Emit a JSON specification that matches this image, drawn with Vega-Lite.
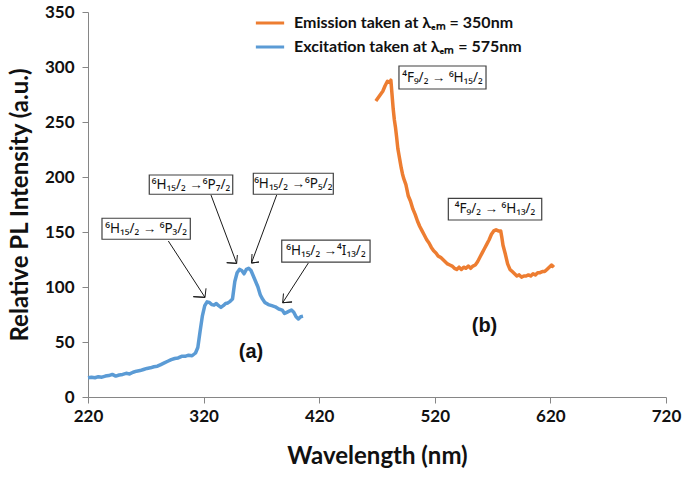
{
  "$schema": "https://vega.github.io/schema/vega-lite/v6.json",
  "width": 578,
  "height": 385,
  "autosize": "none",
  "padding": {"left": 88, "top": 12, "right": 19, "bottom": 80},
  "background": "white",
  "config": {
    "view": {"stroke": null},
    "axis": {
      "grid": false,
      "domainColor": "#868686",
      "tickColor": "#868686",
      "tickSize": 6,
      "labelFont": "Lato",
      "labelFontWeight": "bold",
      "labelFontSize": 17,
      "labelColor": "#111111",
      "titleFont": "Lato",
      "titleFontWeight": "bold",
      "titleFontSize": 24,
      "titleColor": "#111111"
    },
    "legend": {
      "labelFont": "Lato",
      "labelFontWeight": "bold",
      "labelFontSize": 16,
      "labelColor": "#111111",
      "labelLimit": 0
    }
  },
  "datasets": {
    "spectra": [
      {"series": "Emission taken at λₑₘ = 350nm", "nm": 469, "v": 269},
      {"series": "Emission taken at λₑₘ = 350nm", "nm": 471, "v": 272},
      {"series": "Emission taken at λₑₘ = 350nm", "nm": 473, "v": 275},
      {"series": "Emission taken at λₑₘ = 350nm", "nm": 475, "v": 278},
      {"series": "Emission taken at λₑₘ = 350nm", "nm": 477, "v": 283},
      {"series": "Emission taken at λₑₘ = 350nm", "nm": 479, "v": 287},
      {"series": "Emission taken at λₑₘ = 350nm", "nm": 481, "v": 286},
      {"series": "Emission taken at λₑₘ = 350nm", "nm": 482, "v": 288},
      {"series": "Emission taken at λₑₘ = 350nm", "nm": 483, "v": 275},
      {"series": "Emission taken at λₑₘ = 350nm", "nm": 484, "v": 262},
      {"series": "Emission taken at λₑₘ = 350nm", "nm": 485, "v": 252},
      {"series": "Emission taken at λₑₘ = 350nm", "nm": 486, "v": 245},
      {"series": "Emission taken at λₑₘ = 350nm", "nm": 487, "v": 236},
      {"series": "Emission taken at λₑₘ = 350nm", "nm": 488, "v": 226},
      {"series": "Emission taken at λₑₘ = 350nm", "nm": 489, "v": 220},
      {"series": "Emission taken at λₑₘ = 350nm", "nm": 490, "v": 214},
      {"series": "Emission taken at λₑₘ = 350nm", "nm": 491, "v": 208},
      {"series": "Emission taken at λₑₘ = 350nm", "nm": 492, "v": 203},
      {"series": "Emission taken at λₑₘ = 350nm", "nm": 493, "v": 199},
      {"series": "Emission taken at λₑₘ = 350nm", "nm": 495, "v": 193},
      {"series": "Emission taken at λₑₘ = 350nm", "nm": 497, "v": 183},
      {"series": "Emission taken at λₑₘ = 350nm", "nm": 499, "v": 178},
      {"series": "Emission taken at λₑₘ = 350nm", "nm": 501, "v": 171},
      {"series": "Emission taken at λₑₘ = 350nm", "nm": 503, "v": 166},
      {"series": "Emission taken at λₑₘ = 350nm", "nm": 505, "v": 160},
      {"series": "Emission taken at λₑₘ = 350nm", "nm": 507, "v": 155},
      {"series": "Emission taken at λₑₘ = 350nm", "nm": 509, "v": 151},
      {"series": "Emission taken at λₑₘ = 350nm", "nm": 511, "v": 147},
      {"series": "Emission taken at λₑₘ = 350nm", "nm": 513, "v": 143},
      {"series": "Emission taken at λₑₘ = 350nm", "nm": 515, "v": 140},
      {"series": "Emission taken at λₑₘ = 350nm", "nm": 517, "v": 136},
      {"series": "Emission taken at λₑₘ = 350nm", "nm": 519, "v": 133},
      {"series": "Emission taken at λₑₘ = 350nm", "nm": 521, "v": 131},
      {"series": "Emission taken at λₑₘ = 350nm", "nm": 523, "v": 128},
      {"series": "Emission taken at λₑₘ = 350nm", "nm": 525, "v": 127},
      {"series": "Emission taken at λₑₘ = 350nm", "nm": 527, "v": 125},
      {"series": "Emission taken at λₑₘ = 350nm", "nm": 529, "v": 123},
      {"series": "Emission taken at λₑₘ = 350nm", "nm": 531, "v": 121},
      {"series": "Emission taken at λₑₘ = 350nm", "nm": 533, "v": 120},
      {"series": "Emission taken at λₑₘ = 350nm", "nm": 535, "v": 119},
      {"series": "Emission taken at λₑₘ = 350nm", "nm": 537, "v": 117},
      {"series": "Emission taken at λₑₘ = 350nm", "nm": 539, "v": 116},
      {"series": "Emission taken at λₑₘ = 350nm", "nm": 541, "v": 118},
      {"series": "Emission taken at λₑₘ = 350nm", "nm": 543, "v": 116},
      {"series": "Emission taken at λₑₘ = 350nm", "nm": 545, "v": 118},
      {"series": "Emission taken at λₑₘ = 350nm", "nm": 547, "v": 117},
      {"series": "Emission taken at λₑₘ = 350nm", "nm": 549, "v": 119},
      {"series": "Emission taken at λₑₘ = 350nm", "nm": 551, "v": 117},
      {"series": "Emission taken at λₑₘ = 350nm", "nm": 553, "v": 119},
      {"series": "Emission taken at λₑₘ = 350nm", "nm": 555, "v": 120},
      {"series": "Emission taken at λₑₘ = 350nm", "nm": 557, "v": 123},
      {"series": "Emission taken at λₑₘ = 350nm", "nm": 559, "v": 127},
      {"series": "Emission taken at λₑₘ = 350nm", "nm": 561, "v": 131},
      {"series": "Emission taken at λₑₘ = 350nm", "nm": 563, "v": 135},
      {"series": "Emission taken at λₑₘ = 350nm", "nm": 565, "v": 139},
      {"series": "Emission taken at λₑₘ = 350nm", "nm": 567, "v": 143},
      {"series": "Emission taken at λₑₘ = 350nm", "nm": 569, "v": 148},
      {"series": "Emission taken at λₑₘ = 350nm", "nm": 571, "v": 151},
      {"series": "Emission taken at λₑₘ = 350nm", "nm": 573, "v": 152},
      {"series": "Emission taken at λₑₘ = 350nm", "nm": 575, "v": 151},
      {"series": "Emission taken at λₑₘ = 350nm", "nm": 577, "v": 151},
      {"series": "Emission taken at λₑₘ = 350nm", "nm": 578, "v": 145},
      {"series": "Emission taken at λₑₘ = 350nm", "nm": 579, "v": 138},
      {"series": "Emission taken at λₑₘ = 350nm", "nm": 581, "v": 130},
      {"series": "Emission taken at λₑₘ = 350nm", "nm": 583, "v": 121},
      {"series": "Emission taken at λₑₘ = 350nm", "nm": 585, "v": 116},
      {"series": "Emission taken at λₑₘ = 350nm", "nm": 587, "v": 114},
      {"series": "Emission taken at λₑₘ = 350nm", "nm": 589, "v": 112},
      {"series": "Emission taken at λₑₘ = 350nm", "nm": 591, "v": 110},
      {"series": "Emission taken at λₑₘ = 350nm", "nm": 593, "v": 111},
      {"series": "Emission taken at λₑₘ = 350nm", "nm": 595, "v": 109},
      {"series": "Emission taken at λₑₘ = 350nm", "nm": 597, "v": 110},
      {"series": "Emission taken at λₑₘ = 350nm", "nm": 599, "v": 110},
      {"series": "Emission taken at λₑₘ = 350nm", "nm": 601, "v": 111},
      {"series": "Emission taken at λₑₘ = 350nm", "nm": 603, "v": 110},
      {"series": "Emission taken at λₑₘ = 350nm", "nm": 605, "v": 112},
      {"series": "Emission taken at λₑₘ = 350nm", "nm": 607, "v": 111},
      {"series": "Emission taken at λₑₘ = 350nm", "nm": 609, "v": 113},
      {"series": "Emission taken at λₑₘ = 350nm", "nm": 611, "v": 113},
      {"series": "Emission taken at λₑₘ = 350nm", "nm": 613, "v": 114},
      {"series": "Emission taken at λₑₘ = 350nm", "nm": 615, "v": 114},
      {"series": "Emission taken at λₑₘ = 350nm", "nm": 617, "v": 116},
      {"series": "Emission taken at λₑₘ = 350nm", "nm": 619, "v": 118},
      {"series": "Emission taken at λₑₘ = 350nm", "nm": 621, "v": 120},
      {"series": "Emission taken at λₑₘ = 350nm", "nm": 623, "v": 118},
      {"series": "Excitation taken at λₑₘ =  575nm", "nm": 220, "v": 17.5},
      {"series": "Excitation taken at λₑₘ =  575nm", "nm": 223, "v": 18},
      {"series": "Excitation taken at λₑₘ =  575nm", "nm": 226, "v": 17.5},
      {"series": "Excitation taken at λₑₘ =  575nm", "nm": 229, "v": 18.5},
      {"series": "Excitation taken at λₑₘ =  575nm", "nm": 232, "v": 18},
      {"series": "Excitation taken at λₑₘ =  575nm", "nm": 235, "v": 19},
      {"series": "Excitation taken at λₑₘ =  575nm", "nm": 238, "v": 19.5},
      {"series": "Excitation taken at λₑₘ =  575nm", "nm": 241, "v": 20.5},
      {"series": "Excitation taken at λₑₘ =  575nm", "nm": 244, "v": 19},
      {"series": "Excitation taken at λₑₘ =  575nm", "nm": 247, "v": 20},
      {"series": "Excitation taken at λₑₘ =  575nm", "nm": 250, "v": 20.5},
      {"series": "Excitation taken at λₑₘ =  575nm", "nm": 253, "v": 21.5},
      {"series": "Excitation taken at λₑₘ =  575nm", "nm": 256, "v": 21},
      {"series": "Excitation taken at λₑₘ =  575nm", "nm": 259, "v": 22.5},
      {"series": "Excitation taken at λₑₘ =  575nm", "nm": 262, "v": 23.5},
      {"series": "Excitation taken at λₑₘ =  575nm", "nm": 265, "v": 24},
      {"series": "Excitation taken at λₑₘ =  575nm", "nm": 268, "v": 25},
      {"series": "Excitation taken at λₑₘ =  575nm", "nm": 271, "v": 26},
      {"series": "Excitation taken at λₑₘ =  575nm", "nm": 274, "v": 26.5},
      {"series": "Excitation taken at λₑₘ =  575nm", "nm": 277, "v": 27.5},
      {"series": "Excitation taken at λₑₘ =  575nm", "nm": 280, "v": 28},
      {"series": "Excitation taken at λₑₘ =  575nm", "nm": 283, "v": 29.5},
      {"series": "Excitation taken at λₑₘ =  575nm", "nm": 286, "v": 31},
      {"series": "Excitation taken at λₑₘ =  575nm", "nm": 289, "v": 32.5},
      {"series": "Excitation taken at λₑₘ =  575nm", "nm": 292, "v": 34},
      {"series": "Excitation taken at λₑₘ =  575nm", "nm": 295, "v": 35},
      {"series": "Excitation taken at λₑₘ =  575nm", "nm": 298, "v": 35.5},
      {"series": "Excitation taken at λₑₘ =  575nm", "nm": 301, "v": 37},
      {"series": "Excitation taken at λₑₘ =  575nm", "nm": 304, "v": 37},
      {"series": "Excitation taken at λₑₘ =  575nm", "nm": 307, "v": 38},
      {"series": "Excitation taken at λₑₘ =  575nm", "nm": 310, "v": 37.5},
      {"series": "Excitation taken at λₑₘ =  575nm", "nm": 313, "v": 40},
      {"series": "Excitation taken at λₑₘ =  575nm", "nm": 315, "v": 45},
      {"series": "Excitation taken at λₑₘ =  575nm", "nm": 317, "v": 60},
      {"series": "Excitation taken at λₑₘ =  575nm", "nm": 319, "v": 74},
      {"series": "Excitation taken at λₑₘ =  575nm", "nm": 321, "v": 83},
      {"series": "Excitation taken at λₑₘ =  575nm", "nm": 323, "v": 86.5},
      {"series": "Excitation taken at λₑₘ =  575nm", "nm": 325, "v": 86},
      {"series": "Excitation taken at λₑₘ =  575nm", "nm": 327, "v": 84},
      {"series": "Excitation taken at λₑₘ =  575nm", "nm": 329, "v": 83.5},
      {"series": "Excitation taken at λₑₘ =  575nm", "nm": 331, "v": 85},
      {"series": "Excitation taken at λₑₘ =  575nm", "nm": 333, "v": 83},
      {"series": "Excitation taken at λₑₘ =  575nm", "nm": 335, "v": 81.5},
      {"series": "Excitation taken at λₑₘ =  575nm", "nm": 337, "v": 83},
      {"series": "Excitation taken at λₑₘ =  575nm", "nm": 339, "v": 85},
      {"series": "Excitation taken at λₑₘ =  575nm", "nm": 341, "v": 85.5},
      {"series": "Excitation taken at λₑₘ =  575nm", "nm": 343, "v": 87},
      {"series": "Excitation taken at λₑₘ =  575nm", "nm": 345, "v": 89},
      {"series": "Excitation taken at λₑₘ =  575nm", "nm": 347, "v": 105},
      {"series": "Excitation taken at λₑₘ =  575nm", "nm": 349, "v": 113},
      {"series": "Excitation taken at λₑₘ =  575nm", "nm": 351, "v": 116},
      {"series": "Excitation taken at λₑₘ =  575nm", "nm": 353, "v": 115},
      {"series": "Excitation taken at λₑₘ =  575nm", "nm": 355, "v": 112},
      {"series": "Excitation taken at λₑₘ =  575nm", "nm": 357, "v": 116},
      {"series": "Excitation taken at λₑₘ =  575nm", "nm": 359, "v": 117},
      {"series": "Excitation taken at λₑₘ =  575nm", "nm": 361, "v": 115},
      {"series": "Excitation taken at λₑₘ =  575nm", "nm": 363, "v": 110},
      {"series": "Excitation taken at λₑₘ =  575nm", "nm": 365, "v": 105},
      {"series": "Excitation taken at λₑₘ =  575nm", "nm": 367, "v": 100},
      {"series": "Excitation taken at λₑₘ =  575nm", "nm": 369, "v": 93},
      {"series": "Excitation taken at λₑₘ =  575nm", "nm": 371, "v": 89},
      {"series": "Excitation taken at λₑₘ =  575nm", "nm": 373, "v": 86},
      {"series": "Excitation taken at λₑₘ =  575nm", "nm": 376, "v": 84},
      {"series": "Excitation taken at λₑₘ =  575nm", "nm": 379, "v": 83},
      {"series": "Excitation taken at λₑₘ =  575nm", "nm": 382, "v": 82},
      {"series": "Excitation taken at λₑₘ =  575nm", "nm": 385, "v": 80},
      {"series": "Excitation taken at λₑₘ =  575nm", "nm": 388, "v": 79},
      {"series": "Excitation taken at λₑₘ =  575nm", "nm": 390, "v": 76},
      {"series": "Excitation taken at λₑₘ =  575nm", "nm": 392, "v": 77},
      {"series": "Excitation taken at λₑₘ =  575nm", "nm": 394, "v": 78},
      {"series": "Excitation taken at λₑₘ =  575nm", "nm": 396, "v": 79},
      {"series": "Excitation taken at λₑₘ =  575nm", "nm": 398, "v": 77},
      {"series": "Excitation taken at λₑₘ =  575nm", "nm": 400, "v": 73},
      {"series": "Excitation taken at λₑₘ =  575nm", "nm": 402, "v": 71},
      {"series": "Excitation taken at λₑₘ =  575nm", "nm": 404, "v": 73},
      {"series": "Excitation taken at λₑₘ =  575nm", "nm": 406, "v": 73.5}
    ],
    "arrows": [
      {"a": "A1", "o": 0, "nm": 289.5, "v": 141.8},
      {"a": "A1", "o": 1, "nm": 321.2, "v": 90.6},
      {"a": "A1", "o": 2, "nm": 311.1, "v": 91.2},
      {"a": "A1", "o": 3, "nm": 321.2, "v": 90.6},
      {"a": "A1", "o": 4, "nm": 322.1, "v": 98.8},
      {"a": "A2", "o": 0, "nm": 326.4, "v": 183.6},
      {"a": "A2", "o": 1, "nm": 348.6, "v": 121.5},
      {"a": "A2", "o": 2, "nm": 340, "v": 122.1},
      {"a": "A2", "o": 3, "nm": 348.6, "v": 121.5},
      {"a": "A2", "o": 4, "nm": 349.2, "v": 129.1},
      {"a": "A3", "o": 0, "nm": 383.2, "v": 183.6},
      {"a": "A3", "o": 1, "nm": 361.4, "v": 121.8},
      {"a": "A3", "o": 2, "nm": 367.9, "v": 122.7},
      {"a": "A3", "o": 3, "nm": 361.4, "v": 121.8},
      {"a": "A3", "o": 4, "nm": 361.9, "v": 130},
      {"a": "A4", "o": 0, "nm": 410.6, "v": 121.8},
      {"a": "A4", "o": 1, "nm": 388.4, "v": 85.7},
      {"a": "A4", "o": 2, "nm": 396.5, "v": 86.4},
      {"a": "A4", "o": 3, "nm": 388.4, "v": 85.7},
      {"a": "A4", "o": 4, "nm": 389.1, "v": 94.1}
    ],
    "boxes": [
      {"label": "⁶H₁₅/₂ → ⁶P₃/₂", "x1": 232.1, "x2": 308.5, "y1": 143.4, "y2": 162.5},
      {"label": "⁶H₁₅/₂ →⁶P₇/₂", "x1": 273, "x2": 345.2, "y1": 184.3, "y2": 201.8},
      {"label": "⁶H₁₅/₂ →⁶P₅/₂", "x1": 363, "x2": 432.2, "y1": 184.3, "y2": 203.4},
      {"label": "⁶H₁₅/₂ →⁴I₁₃/₂", "x1": 387.6, "x2": 464, "y1": 122.7, "y2": 142.7},
      {"label": "⁴F₉/₂ → ⁶H₁₅/₂", "x1": 489, "x2": 564.3, "y1": 280, "y2": 300.9},
      {"label": "⁴F₉/₂ → ⁶H₁₃/₂", "x1": 531.7, "x2": 612.5, "y1": 160.9, "y2": 180.6}
    ],
    "tags": [
      {"t": "(a)", "nm": 361, "v": 41},
      {"t": "(b)", "nm": 563, "v": 65}
    ]
  },
  "layer": [
    {
      "data": {"name": "spectra"},
      "mark": {"type": "line", "strokeWidth": 3.5, "strokeJoin": "round"},
      "encoding": {
        "x": {
          "field": "nm", "type": "quantitative", "title": "Wavelength (nm)",
          "scale": {"domain": [220, 720], "nice": false, "zero": false},
          "axis": {"values": [220, 320, 420, 520, 620, 720], "labelPadding": 5, "titlePadding": 20, "labelFlush": false}
        },
        "y": {
          "field": "v", "type": "quantitative", "title": "Relative PL Intensity (a.u.)",
          "scale": {"domain": [0, 350], "nice": false},
          "axis": {"values": [0, 50, 100, 150, 200, 250, 300, 350], "labelPadding": 8, "titlePadding": 12, "labelFlush": false}
        },
        "color": {
          "field": "series", "type": "nominal",
          "scale": {
            "domain": ["Emission taken at λₑₘ = 350nm", "Excitation taken at λₑₘ =  575nm"],
            "range": ["#ED7D31", "#5B9BD5"]
          },
          "legend": {
            "title": null,
            "orient": "none",
            "legendX": 166,
            "legendY": -5,
            "symbolType": "stroke",
            "symbolStrokeWidth": 3,
            "symbolSize": 800,
            "rowPadding": 0,
            "labelOffset": 8
          }
        }
      }
    },
    {
      "data": {"name": "arrows"},
      "mark": {"type": "line", "color": "#1a1a1a", "strokeWidth": 1},
      "encoding": {
        "x": {"field": "nm", "type": "quantitative", "title": "Wavelength (nm)"},
        "y": {"field": "v", "type": "quantitative", "title": "Relative PL Intensity (a.u.)"},
        "detail": {"field": "a"},
        "order": {"field": "o"}
      }
    },
    {
      "data": {"name": "boxes"},
      "mark": {"type": "rect", "fill": "white", "stroke": "#404040", "strokeWidth": 1.2},
      "encoding": {
        "x": {"field": "x1", "type": "quantitative", "title": "Wavelength (nm)"},
        "x2": {"field": "x2"},
        "y": {"field": "y1", "type": "quantitative", "title": "Relative PL Intensity (a.u.)"},
        "y2": {"field": "y2"}
      }
    },
    {
      "data": {"name": "boxes"},
      "transform": [
        {"calculate": "(datum.x1 + datum.x2) / 2", "as": "cx"},
        {"calculate": "(datum.y1 + datum.y2) / 2", "as": "cy"}
      ],
      "mark": {"type": "text", "font": "Noto Sans", "fontSize": 13.5, "color": "#111111", "align": "center", "baseline": "middle"},
      "encoding": {
        "x": {"field": "cx", "type": "quantitative", "title": "Wavelength (nm)"},
        "y": {"field": "cy", "type": "quantitative", "title": "Relative PL Intensity (a.u.)"},
        "text": {"field": "label"}
      }
    },
    {
      "data": {"name": "tags"},
      "mark": {"type": "text", "font": "Liberation Sans", "fontWeight": "bold", "fontSize": 20, "color": "#111111", "align": "center", "baseline": "middle"},
      "encoding": {
        "x": {"field": "nm", "type": "quantitative", "title": "Wavelength (nm)"},
        "y": {"field": "v", "type": "quantitative", "title": "Relative PL Intensity (a.u.)"},
        "text": {"field": "t"}
      }
    }
  ]
}
